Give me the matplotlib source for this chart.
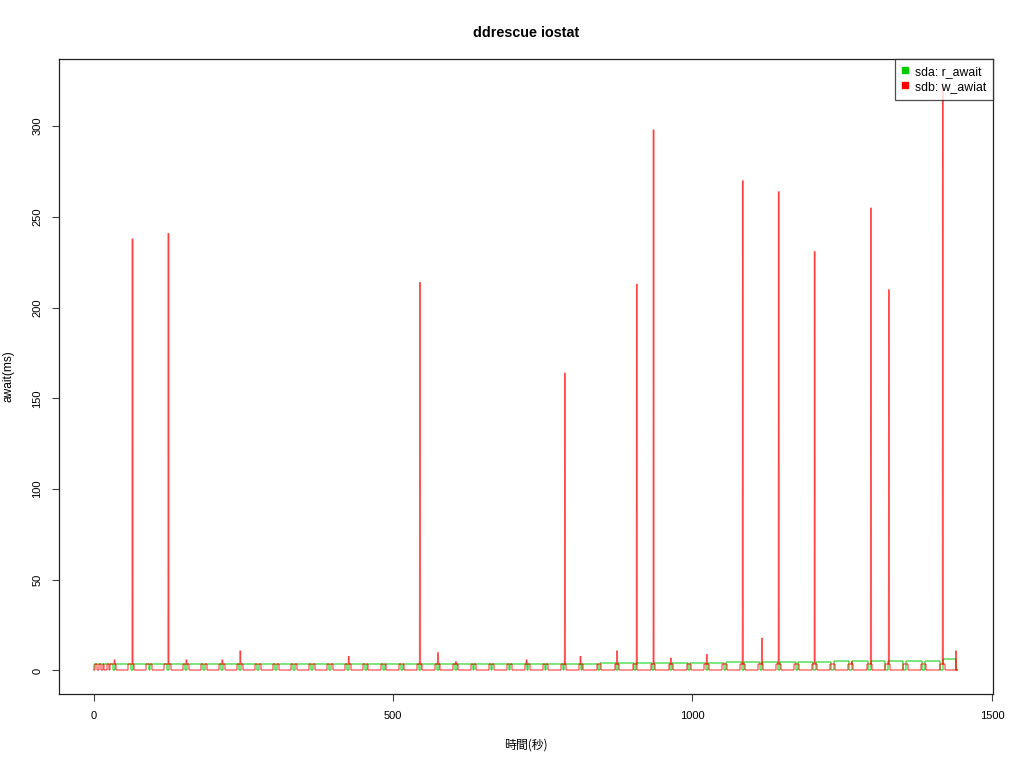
import matplotlib
matplotlib.use("Agg")
import matplotlib.pyplot as plt
from matplotlib.collections import LineCollection
from matplotlib import font_manager
import numpy as np

# ---------------- data ----------------
x_ticks = [0, 500, 1000, 1500]
y_ticks = [0, 50, 100, 150, 200, 250, 300]
series_names = ["sda: r_await", "sdb: w_awiat"]
t_end = 1444

# sdb (red) : periods where w_await sits at the upper level (start, end)
red_rise = [3, 9, 15, 22, 28, 58, 88, 118, 149, 179, 209, 239, 269, 299, 329, 359, 389, 419,
            450, 480, 510, 540, 570, 600, 630, 660, 690, 720, 750, 780, 810, 840, 870, 900,
            930, 960, 990, 1020, 1050, 1080, 1110, 1140, 1170, 1200, 1230, 1260, 1291, 1321,
            1351, 1382, 1413]
red_fall = [6, 12, 18, 25, 38, 68, 98, 129, 159, 189, 219, 249, 279, 309, 339, 369, 399, 429,
            458, 488, 518, 548, 578, 608, 638, 668, 698, 728, 758, 788, 818, 848, 878, 908,
            938, 968, 998, 1028, 1058, 1088, 1118, 1148, 1178, 1208, 1238, 1268, 1299, 1329,
            1359, 1390, 1421]
red_level = 3.3
# sdb spikes (time s, await ms)
red_spike_t = [35, 65, 125, 155, 215, 245, 426, 545, 575, 605, 723, 787, 813, 874, 907,
               935, 964, 1024, 1084, 1116, 1144, 1204, 1266, 1298, 1328, 1418, 1440]
red_spike_v = [6, 238, 241, 6, 6, 11, 8, 214, 10, 5, 6, 164, 8, 11, 213,
               298, 7, 9, 270, 18, 264, 231, 5, 255, 210, 324, 11]

# sda (green) : short drops to zero (start, end) and level between drops
green_drop = [32, 62, 92, 123, 153, 183, 213, 243, 273, 303, 333, 363, 393, 423, 453, 483,
              513, 543, 573, 603, 633, 663, 693, 723, 753, 783, 813, 843, 873, 903, 933,
              963, 993, 1022, 1052, 1082, 1112, 1142, 1172, 1202, 1232, 1262, 1293, 1322,
              1352, 1383, 1414]
green_back = [35, 65, 95, 126, 156, 186, 216, 246, 276, 306, 336, 366, 396, 426, 456, 486,
              516, 546, 576, 606, 636, 666, 696, 726, 756, 786, 816, 846, 876, 906, 936,
              966, 996, 1026, 1056, 1086, 1116, 1146, 1176, 1206, 1236, 1267, 1298, 1327,
              1357, 1388, 1419]
green_level = [3.4, 3.4, 3.4, 3.4, 3.4, 3.4, 3.5, 3.5, 3.5, 3.5, 3.5, 3.5, 3.5, 3.5, 3.6,
               3.6, 3.6, 3.6, 3.6, 3.6, 3.7, 3.7, 3.7, 3.7, 3.7, 3.8, 3.8, 3.8, 3.9, 3.9,
               4.0, 4.0, 4.1, 4.2, 4.3, 4.4, 4.5, 4.6, 4.7, 4.8, 4.9, 5.0, 5.1, 5.2, 5.3,
               5.4, 5.5, 6.2]
green_end = 1440

# ---------------- build polylines from the read values ----------------
def red_polyline():
    blocks = []
    used = set()
    for r, f in zip(red_rise, red_fall):
        pts = [(r, 0.0), (r, red_level)]
        for i, (t, v) in enumerate(zip(red_spike_t, red_spike_v)):
            if r < t < f:
                pts += [(t - 0.5, red_level), (t, v), (t + 0.5, red_level)]
                used.add(i)
        pts += [(f, red_level), (f, 0.0)]
        blocks.append((r, pts))
    for i, (t, v) in enumerate(zip(red_spike_t, red_spike_v)):
        if i not in used:
            blocks.append((t - 0.5, [(t - 0.5, 0.0), (t, v), (t + 0.5, 0.0)]))
    blocks.sort(key=lambda b: b[0])
    pts = [(0.0, 0.0)]
    for _, p in blocks:
        pts += p
    pts.append((t_end, 0.0))
    return np.array(pts)


def green_polyline():
    pts = [(0.0, 0.0), (1.0, green_level[0])]
    for k, (a, b) in enumerate(zip(green_drop, green_back)):
        pts += [(a, green_level[k]), (a, 0.0), (b, 0.0), (b, green_level[k + 1])]
    pts += [(green_end, green_level[-1]), (green_end, 0.0), (t_end, 0.0)]
    return np.array(pts)


def segs(p):
    return np.stack([p[:-1], p[1:]], axis=1)

# ---------------- figure ----------------
names = [f.name for f in font_manager.fontManager.ttflist]
narrow = "Liberation Sans Narrow" if "Liberation Sans Narrow" in names else "Liberation Sans"
plt.rcParams["font.family"] = ["Liberation Sans", "DejaVu Sans"]

fig = plt.figure(figsize=(10.24, 7.68), dpi=100)
ax = fig.add_axes([59 / 1024, (768 - 694) / 768, (993 - 59) / 1024, (694 - 59) / 768])

green_col = (0.0, 0.80, 0.0, 0.65)
red_col = (1.0, 0.0, 0.0, 0.5)

ax.add_collection(LineCollection(segs(green_polyline()), colors=[green_col],
                                 linewidths=1.1, capstyle="butt"))
ax.add_collection(LineCollection(segs(red_polyline()), colors=[red_col],
                                 linewidths=1.2, capstyle="butt"))

ymax = max(red_spike_v)
xr = t_end
ax.set_xlim(-0.04 * xr, xr * 1.04)
ax.set_ylim(-0.04 * ymax, ymax * 1.04)

ax.set_xticks(x_ticks)
ax.set_yticks(y_ticks)
ax.set_xticklabels([str(v) for v in x_ticks], fontfamily=narrow, fontsize=8)
ax.set_yticklabels([str(v) for v in y_ticks], fontfamily=narrow, fontsize=8,
                   rotation=90, va="center")
ax.tick_params(direction="out", length=5, width=0.8, color="#444444", pad=7)
for s in ax.spines.values():
    s.set_linewidth(0.9)
    s.set_color("#222222")

ax.set_title("ddrescue iostat", fontsize=10.4, fontweight="bold", pad=16)
ax.set_xlabel("時間(秒)", fontfamily=["Noto Sans CJK JP", "DejaVu Sans"], fontsize=8.6,
              labelpad=13)
ax.set_ylabel("await(ms)", fontsize=8.6, labelpad=13)

handles = [plt.Line2D([], [], ls="none", marker="s", markersize=4.0, color=(0, 0.8, 0)),
           plt.Line2D([], [], ls="none", marker="s", markersize=4.0, color="red")]
leg = ax.legend(handles, series_names, loc="upper right", fontsize=8.8, frameon=True,
                fancybox=False, borderaxespad=0, handlelength=0.6, handletextpad=0.5,
                borderpad=0.55, labelspacing=0.25)
leg.get_frame().set_edgecolor("#222222")
leg.get_frame().set_linewidth(0.9)

fig.savefig("out.png", dpi=100)
